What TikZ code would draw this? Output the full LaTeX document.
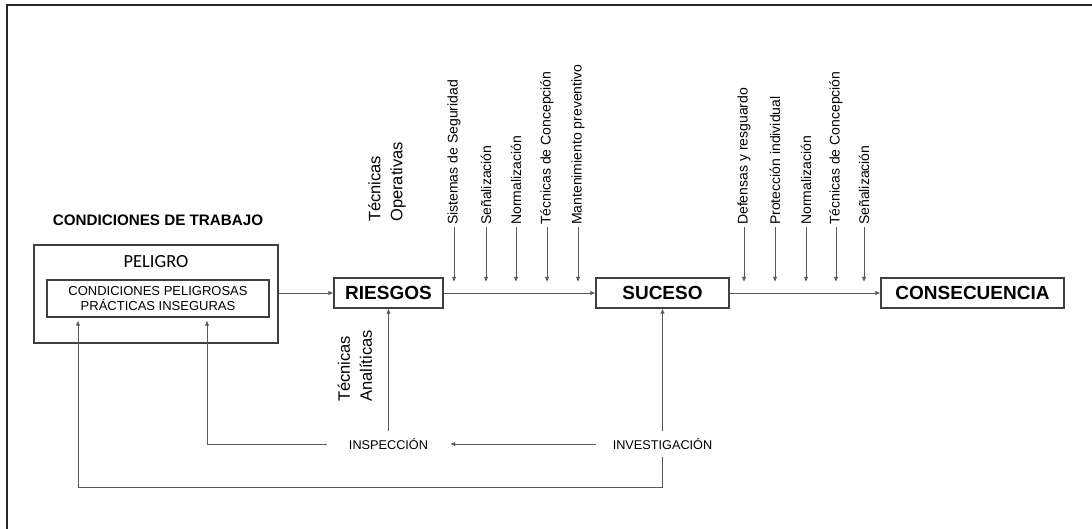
\documentclass[tikz,border=0pt]{standalone}
\usepackage{fontspec}
\setmainfont{Liberation Sans}
\newfontfamily\calibri{Carlito}
\usetikzlibrary{arrows.meta}
\begin{document}
\begin{tikzpicture}[x=1pt,y=-1pt,
  box/.style={draw=black!75, line width=1.1pt, inner sep=0pt, minimum height=30pt,
    font=\bfseries\fontsize{19}{22}\selectfont},
  frame/.style={draw=black!75, line width=1.1pt, inner sep=0pt},
  link/.style={draw=black!65, line width=0.9pt},
  arr/.style={link, -{Latex[length=5pt,width=4.5pt]}},
  vlabel/.style={rotate=90, anchor=west, inner sep=2pt, font=\fontsize{14}{16}\selectfont},
  tlabel/.style={rotate=90, anchor=west, inner sep=2pt, align=left,
    font=\fontsize{16.5}{22}\selectfont},
  small/.style={font=\fontsize{12.7}{14}\selectfont, inner ysep=7pt}
]
\useasboundingbox (0,0) rectangle (1092,529);

% page border (top and left edges)
\draw[black!85, line width=2.2pt] (7,529) -- (7,5) -- (1092,5);

% working conditions block
\node[font=\bfseries\fontsize{15.2}{17}\selectfont] (ctit) at (158,220) {CONDICIONES DE TRABAJO};
\node[frame, minimum width=244pt, minimum height=98pt] (pel) at (156,294) {};
\node[font=\calibri\fontsize{18.5}{20}\selectfont] (peltxt) at (156,262) {PELIGRO};
\node[frame, minimum width=222pt, minimum height=37pt, align=center,
      font=\fontsize{13}{15}\selectfont] (inner) at (158,298.5)
      {CONDICIONES PELIGROSAS\\PRÁCTICAS INSEGURAS};

% main chain
\node[box, minimum width=109pt] (ries) at (388.5,293) {RIESGOS};
\node[box, minimum width=133pt] (suc) at (662.5,293) {SUCESO};
\node[box, minimum width=183pt] (cons) at (972.5,293) {CONSECUENCIA};

\draw[arr] (ries.west -| pel.east) -- (ries.west);
\draw[arr] (ries.east) -- (suc.west);
\draw[arr] (suc.east) -- (cons.west);

% technique labels
\node[tlabel] (top) at (387,224) {Técnicas\\Operativas};
\node[tlabel] (tan) at (355,404) {Técnicas\\Analíticas};

% preventive measures before and after the event
\foreach \i/\x/\t in {1/454/Sistemas de Seguridad, 2/486/Señalización, 3/516/Normalización,
                      4/547/Técnicas de Concepción, 5/578/Mantenimiento preventivo,
                      6/744/Defensas y resguardo, 7/775/Protección individual, 8/806/Normalización,
                      9/836/Técnicas de Concepción, 10/864/Señalización}{
  \node[vlabel] (m\i) at (\x,227) {\t};
  \coordinate (mt\i) at (\x,282);
  \draw[arr] (m\i.west) -- (mt\i);
}

% feedback from inspection and investigation
\node[small, inner xsep=22pt] (insp) at (388.5,444) {INSPECCIÓN};
\node[small, inner xsep=17pt] (inv) at (662.5,444) {INVESTIGACIÓN};
\coordinate (ia) at (207,320.5);
\coordinate (lc) at (78,487);
\coordinate (la) at (78,320.5);

\draw[arr] (insp.north) -- (ries.south);
\draw[arr] (inv.north) -- (suc.south);
\draw[arr] (inv.west) -- (insp.east);
\draw[arr] (insp.west) -| (ia);
\draw[arr] (inv.south) |- (lc) -- (la);
\end{tikzpicture}
\end{document}
